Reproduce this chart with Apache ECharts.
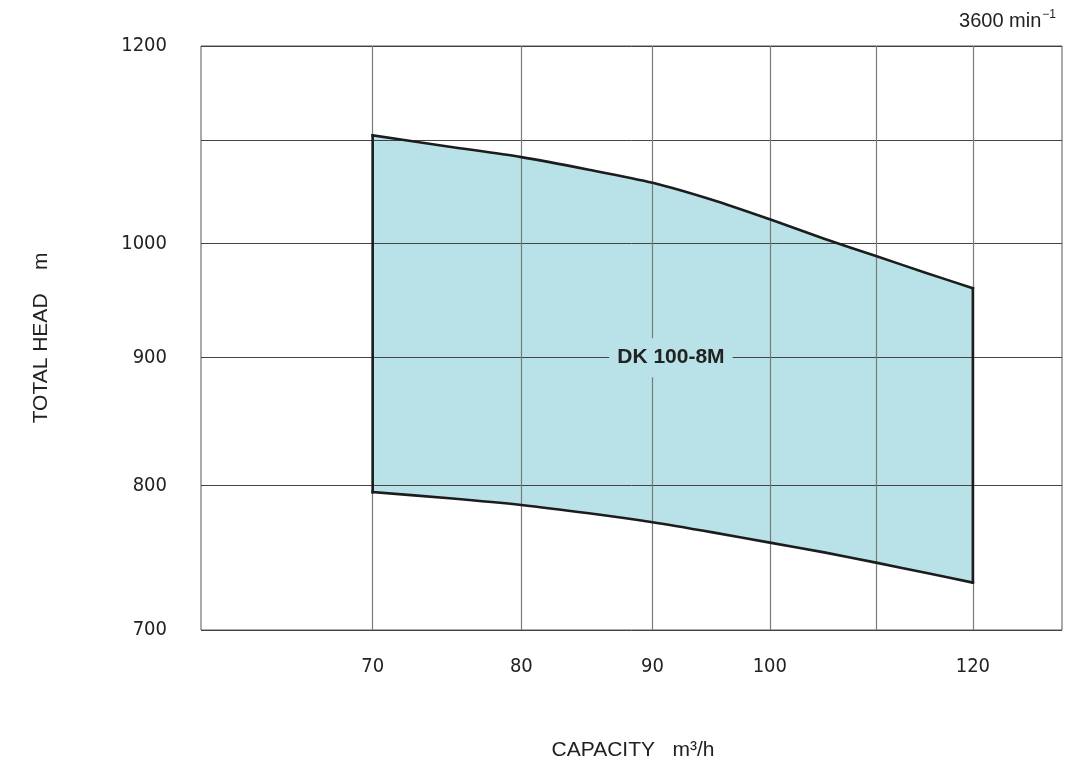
<!DOCTYPE html>
<html><head><meta charset="utf-8">
<script src="https://cdn.jsdelivr.net/npm/echarts@6/dist/echarts.min.js"></script>
<style>html,body{margin:0;padding:0;background:#fff}#c{width:1068px;height:767px}</style>
</head><body><div id="c"></div>
<script>
const capacity = [70, 75, 80, 85, 90, 95, 100, 105, 110, 115, 120];
const headUpper = [1105, 1093.5, 1083, 1070.5, 1057.7, 1041, 1022.6, 1004.5, 988.5, 973.5, 959.5];
const headLower = [795, 790.5, 785.6, 779.6, 773.2, 766, 758.8, 752, 744.9, 738, 731.3];
const xTicks = [70, 80, 90, 100, 110, 120];
const xLabels = [70, 80, 90, 100, 120];
const yTicks = [700, 800, 900, 1000, 1100, 1200];
const yLabels = [700, 800, 900, 1000, 1200];
const modelName = 'DK 100-8M';
const modelPos = [91.5, 900];
const speedValue = '3600 min';
const speedExp = '−1';
const xTitle = 'CAPACITY   m³/h';
const yTitle = 'TOTAL HEAD    m';

const narrow = '"Liberation Sans Narrow", "DejaVu Sans Condensed", "Liberation Sans", sans-serif';
const sans = '"Liberation Sans", Arial, sans-serif';
const fillColor = '#b8e2e8';
const strokeColor = '#1c1c1c';

function pts(api, ys) {
  return capacity.map((c, i) => api.coord([c, ys[i]]));
}

const chart = echarts.init(document.getElementById('c'), null, {renderer: 'canvas'});
chart.setOption({
  animation: false,
  backgroundColor: '#fff',
  grid: {left: 201, top: 46, width: 861, height: 584, show: true, borderColor: '#555', borderWidth: 1, backgroundColor: 'transparent'},
  xAxis: {
    type: 'log', logBase: 10, min: 60, max: 130,
    axisLine: {show: false},
    axisTick: {show: false, customValues: xTicks},
    minorTick: {show: false},
    splitLine: {show: true, lineStyle: {color: '#7a7a7a', width: 1.2}},
    axisLabel: {customValues: xLabels, margin: 27, fontSize: 20, color: '#222', fontFamily: narrow,
      formatter: v => String(Math.round(v))}
  },
  yAxis: {
    type: 'log', logBase: 10, min: 700, max: 1200,
    axisLine: {show: false},
    axisTick: {show: false, customValues: yTicks},
    minorTick: {show: false},
    splitLine: {show: true, lineStyle: {color: '#444', width: 1}},
    axisLabel: {customValues: yLabels, margin: 34, fontSize: 20, color: '#222', fontFamily: narrow,
      formatter: v => String(Math.round(v))}
  },
  graphic: [
    {type: 'text', right: 12, top: 7, style: {
      text: '{a|' + speedValue + '}{s|' + speedExp + '}',
      rich: {
        a: {fontSize: 20, fill: '#222', fontFamily: sans, lineHeight: 24, verticalAlign: 'bottom'},
        s: {fontSize: 12, fill: '#222', fontFamily: sans, lineHeight: 24, verticalAlign: 'top', padding: [2, 0, 0, 1]}
      }}},
    {type: 'text', x: 633, y: 750, style: {text: xTitle, fontSize: 21, fill: '#222', fontFamily: sans, textAlign: 'center', textVerticalAlign: 'middle'}},
    {type: 'text', x: 41, y: 338, rotation: Math.PI / 2, style: {text: yTitle, fontSize: 21, fill: '#222', fontFamily: sans, textAlign: 'center', textVerticalAlign: 'middle'}}
  ],
  series: [
    {
      type: 'custom', z: -1, silent: true,
      data: [[capacity[0], headUpper[0]]],
      renderItem: function (params, api) {
        const poly = pts(api, headUpper).concat(pts(api, headLower).reverse());
        return {type: 'polygon', shape: {points: poly}, style: {fill: fillColor, stroke: 'none'}};
      }
    },
    {
      type: 'custom', z: 3, silent: true,
      data: [[capacity[0], headUpper[0]]],
      renderItem: function (params, api) {
        const up = pts(api, headUpper), lo = pts(api, headLower);
        const n = capacity.length - 1;
        const st = {fill: 'none', stroke: strokeColor, lineWidth: 2.6, lineCap: 'square', lineJoin: 'miter'};
        return {type: 'group', children: [
          {type: 'polyline', shape: {points: up, smooth: 0.25}, style: st},
          {type: 'polyline', shape: {points: lo, smooth: 0.25}, style: st},
          {type: 'line', shape: {x1: up[0][0], y1: up[0][1], x2: lo[0][0], y2: lo[0][1]}, style: st},
          {type: 'line', shape: {x1: up[n][0], y1: up[n][1], x2: lo[n][0], y2: lo[n][1]}, style: st}
        ]};
      }
    },
    {
      type: 'scatter', z: 5, silent: true, symbolSize: 1,
      itemStyle: {color: 'rgba(0,0,0,0)', opacity: 1},
      data: [modelPos],
      label: {show: true, position: 'inside', formatter: modelName, backgroundColor: fillColor,
        padding: [9, 8, 9, 8], fontSize: 21, fontWeight: 'bold', color: '#222', opacity: 1,
        fontFamily: '"Liberation Sans", Arial, sans-serif'}
    }
  ]
});
</script></body></html>
